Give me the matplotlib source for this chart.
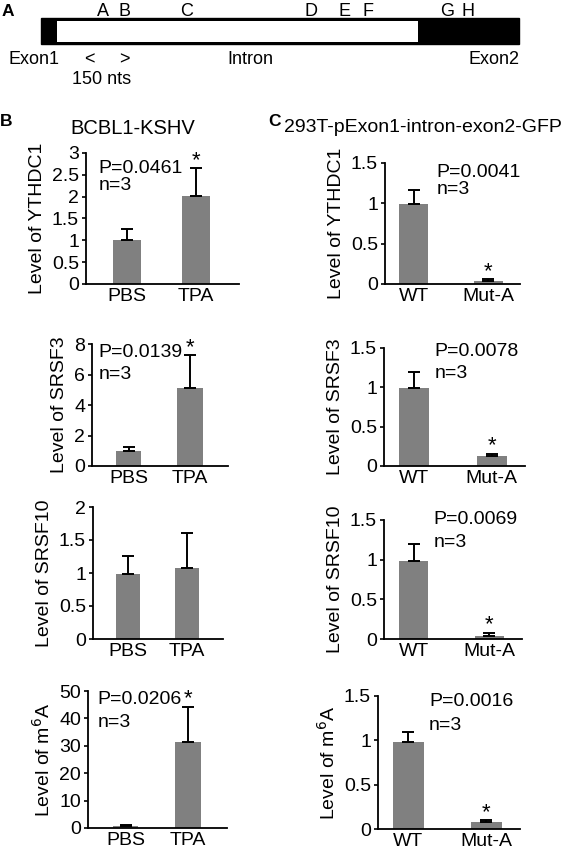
import numpy as np
import matplotlib.pyplot as plt
from matplotlib.patches import Rectangle

plt.rcParams['font.family'] = ['Liberation Sans', 'DejaVu Sans']

#---------------------------------------------
# Data
#---------------------------------------------

# Panel A: schematic of the exon1-intron-exon2 region (positions in figure pixels)
site_labels = ['A', 'B', 'C', 'D', 'E', 'F', 'G', 'H']
site_pos = [103, 125, 187, 311, 345, 368, 447, 468]

# Panel B: BCBL1-KSHV, PBS vs TPA
b_groups = ['PBS', 'TPA']
b_ythdc1 = [1.00, 2.02]
b_ythdc1_err = [0.27, 0.63]
b_srsf3 = [0.97, 5.14]
b_srsf3_err = [0.30, 2.14]
b_srsf10 = [0.98, 1.08]
b_srsf10_err = [0.28, 0.52]
b_m6a = [0.6, 31.5]
b_m6a_err = [0.6, 12.8]

# Panel C: 293T reporter, WT vs Mut-A
c_groups = ['WT', 'Mut-A']
c_ythdc1 = [0.99, 0.04]
c_ythdc1_err = [0.17, 0.02]
c_srsf3 = [0.99, 0.127]
c_srsf3_err = [0.21, 0.03]
c_srsf10 = [0.98, 0.04]
c_srsf10_err = [0.22, 0.04]
c_m6a = [0.985, 0.075]
c_m6a_err = [0.105, 0.025]

W, H = 566, 852
fig = plt.figure(figsize=(W / 100, H / 100), dpi=100)

FS = 14  # main text size


def px_axes(x0, x1, ytop, ybot):
    """Axes from pixel box (origin top-left)."""
    return fig.add_axes([x0 / W, 1 - ybot / H, (x1 - x0) / W, (ybot - ytop) / H])


def bar_panel(ax, groups, vals, errs, ylabel, ylim, yticks, xlim, width,
              ptext=None, px=0.08, py=(0.9, 0.76), star=None):
    x = np.arange(len(groups))
    ax.bar(x, vals, width=width, color='#808080', zorder=2)
    ax.errorbar(x, vals, yerr=[np.zeros(len(vals)), errs], fmt='none',
                ecolor='black', elinewidth=1.4, capsize=4.5, capthick=1.4, zorder=3)
    ax.set_xlim(*xlim)
    ax.set_ylim(*ylim)
    ax.set_yticks(yticks)
    ax.set_yticklabels([f'{t:g}' for t in yticks])
    ax.set_xticks(x)
    ax.set_xticklabels(groups)
    ax.set_ylabel(ylabel, fontsize=FS, labelpad=4)
    for s in ['top', 'right']:
        ax.spines[s].set_visible(False)
    for s in ['left', 'bottom']:
        ax.spines[s].set_linewidth(1.3)
    ax.tick_params(axis='y', direction='out', length=3, width=1.2, labelsize=FS, pad=2)
    ax.tick_params(axis='x', length=0, labelsize=FS, pad=3)
    if ptext:
        ax.text(px, py[0], ptext, transform=ax.transAxes, fontsize=FS, va='center')
        ax.text(px, py[1], 'n=3', transform=ax.transAxes, fontsize=FS, va='center')
    if star is not None:
        ax.annotate('*', (star, vals[star] + errs[star]), xytext=(0, -2),
                    textcoords='offset points', ha='center', va='bottom', fontsize=16)


#---------------------------------------------
# Panel A
#---------------------------------------------

axA = fig.add_axes([0, 1 - 100 / H, 1, 100 / H])
axA.set_xlim(0, W)
axA.set_ylim(100, 0)
axA.axis('off')
axA.add_patch(Rectangle((41, 18), 478, 26, color='black'))
axA.add_patch(Rectangle((57, 20.5), 361, 21, facecolor='white', edgecolor='none'))
for lab, xp in zip(site_labels, site_pos):
    axA.text(xp, 12, lab, ha='center', va='center', fontsize=13)
axA.text(2, 12, 'A', fontsize=12.5, fontweight='bold', va='center')
axA.text(9, 60, 'Exon1', fontsize=13, va='center')
axA.text(89, 60, '<', fontsize=13, ha='center', va='center')
axA.text(124, 60, '>', fontsize=13, ha='center', va='center')
axA.text(102, 79, '150 nts', fontsize=13, ha='center', va='center')
axA.text(250, 60, 'Intron', fontsize=13, ha='center', va='center')
axA.text(520, 60, 'Exon2', fontsize=13, ha='right', va='center')

#---------------------------------------------
# Panel B
#---------------------------------------------

fig.text(0 / W, 1 - 122 / H, 'B', fontsize=12.5, fontweight='bold', va='center')
fig.text(133 / W, 1 - 128 / H, 'BCBL1-KSHV', fontsize=14.5, ha='center', va='center')

bx = (-0.6, 1.62)
ax = px_axes(86, 239, 153, 284)
bar_panel(ax, b_groups, b_ythdc1, b_ythdc1_err, 'Level of YTHDC1', (0, 3),
          [0, 0.5, 1, 1.5, 2, 2.5, 3], bx, 0.41, 'P=0.0461', 0.08, (0.885, 0.755), star=1)

ax = px_axes(92, 228, 344, 466)
bar_panel(ax, b_groups, b_srsf3, b_srsf3_err, 'Level of SRSF3', (0, 8),
          [0, 2, 4, 6, 8], bx, 0.41, 'P=0.0139', 0.05, (0.93, 0.75), star=1)

ax = px_axes(93, 223, 507, 639)
bar_panel(ax, b_groups, b_srsf10, b_srsf10_err, 'Level of SRSF10', (0, 2),
          [0, 0.5, 1, 1.5, 2], bx, 0.41)

ax = px_axes(88, 227, 691, 828)
bar_panel(ax, b_groups, b_m6a, b_m6a_err, 'Level of m$^6$A', (0, 50),
          [0, 10, 20, 30, 40, 50], bx, 0.41, 'P=0.0206', 0.07, (0.94, 0.77), star=1)

#---------------------------------------------
# Panel C
#---------------------------------------------

fig.text(268 / W, 1 - 122 / H, 'C', fontsize=12.5, fontweight='bold', va='center')
fig.text(284 / W, 1 - 128 / H, '293T-pExon1-intron-exon2-GFP', fontsize=14, va='center')

cx = (-0.39, 1.43)
ax = px_axes(385, 520, 163, 284)
bar_panel(ax, c_groups, c_ythdc1, c_ythdc1_err, 'Level of YTHDC1', (0, 1.5),
          [0, 0.5, 1, 1.5], cx, 0.39, 'P=0.0041', 0.38, (0.92, 0.78), star=1)

ax = px_axes(384, 525, 348, 466)
bar_panel(ax, c_groups, c_srsf3, c_srsf3_err, 'Level of SRSF3', (0, 1.5),
          [0, 0.5, 1, 1.5], cx, 0.39, 'P=0.0078', 0.36, (0.97, 0.78), star=1)

ax = px_axes(384, 522, 520, 639)
bar_panel(ax, c_groups, c_srsf10, c_srsf10_err, 'Level of SRSF10', (0, 1.5),
          [0, 0.5, 1, 1.5], cx, 0.39, 'P=0.0069', 0.36, (1.0, 0.81), star=1)

ax = px_axes(378, 520, 696, 829)
bar_panel(ax, c_groups, c_m6a, c_m6a_err, 'Level of m$^6$A', (0, 1.5),
          [0, 0.5, 1, 1.5], cx, 0.39, 'P=0.0016', 0.36, (0.955, 0.78), star=1)

fig.savefig('out.png', dpi=100)
